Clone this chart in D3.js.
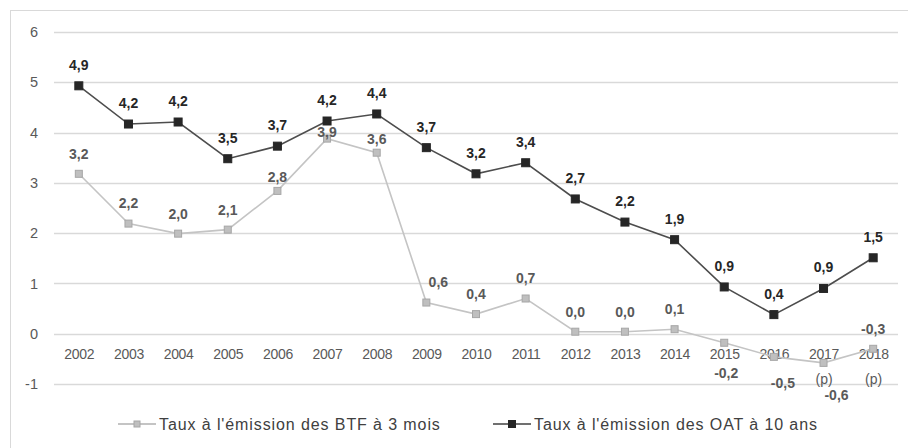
<!DOCTYPE html>
<html>
<head>
<meta charset="utf-8">
<script src="https://cdn.jsdelivr.net/npm/d3@7"></script>
<style>
  body { margin: 0; background: #fff; }
  svg { display: block; font-family: "Liberation Sans", Arial, sans-serif; }
</style>
</head>
<body>
<svg id="chart" width="908" height="448"></svg>
<script>
var years = ["2002", "2003", "2004", "2005", "2006", "2007", "2008", "2009", "2010",
  "2011", "2012", "2013", "2014", "2015", "2016", "2017", "2018"];
var yearNotes = { "2017": "(p)", "2018": "(p)" };
var btf = [3.18, 2.19, 1.99, 2.07, 2.84, 3.88, 3.60, 0.62, 0.39, 0.70, 0.04, 0.04, 0.09,
  -0.18, -0.46, -0.58, -0.30];
var oat = [4.93, 4.17, 4.21, 3.48, 3.73, 4.23, 4.37, 3.70, 3.18, 3.40, 2.68, 2.22, 1.87,
  0.93, 0.38, 0.90, 1.51];
var yTicks = [-1, 0, 1, 2, 3, 4, 5, 6];
var seriesNames = ["Taux à l'émission des BTF à 3 mois", "Taux à l'émission des OAT à 10 ans"];

// label nudges for the light series (dx, dy from the marker)
var btfNudge = {
  "2006": [0, -14], "2007": [0, -7], "2008": [0, -14], "2009": [12, -20],
  "2015": [2, 30], "2016": [9, 26], "2017": [13, 32]
};

var svg = d3.select("#chart");

// frame
svg.append("rect")
  .attr("x", 10.5).attr("y", 10.5)
  .attr("width", 920).attr("height", 460)
  .attr("fill", "none").attr("stroke", "#d9d9d9");

var x = d3.scalePoint().domain(years).range([54, 898]).padding(0.5);
var y = d3.scaleLinear().domain([-1, 6]).range([384, 32]);

var fmt = function(v) { return d3.format(".1f")(v).replace(".", ",").replace("−", "-"); };

// grid
svg.append("g").selectAll("line")
  .data(yTicks).enter().append("line")
  .attr("x1", 54).attr("x2", 898)
  .attr("y1", function(d) { return Math.round(y(d)) + 0.5; })
  .attr("y2", function(d) { return Math.round(y(d)) + 0.5; })
  .attr("stroke", "#d9d9d9").attr("stroke-width", 1.3);

// y axis labels
var yAxis = svg.append("g")
  .attr("transform", "translate(48,0)")
  .call(d3.axisLeft(y).tickValues(yTicks).tickSize(0).tickPadding(10)
    .tickFormat(function(d) { return String(d); }));
yAxis.select(".domain").remove();
yAxis.selectAll("text")
  .attr("fill", "#595959").attr("font-size", 14.5)
  .attr("font-family", "Liberation Sans, Arial, sans-serif");

// x axis labels, sitting just below the zero line
var xAxis = svg.append("g")
  .attr("transform", "translate(0," + (y(0) + 11) + ")")
  .call(d3.axisBottom(x).tickSize(0).tickPadding(4));
xAxis.select(".domain").remove();
xAxis.selectAll("text")
  .attr("fill", "#595959").attr("font-size", 14)
  .attr("letter-spacing", -0.3)
  .attr("font-family", "Liberation Sans, Arial, sans-serif");
xAxis.selectAll(".tick").filter(function(d) { return yearNotes[d]; })
  .append("text")
  .attr("y", 29).attr("dy", "0.71em")
  .attr("fill", "#595959").attr("font-size", 14)
  .attr("font-family", "Liberation Sans, Arial, sans-serif")
  .attr("text-anchor", "middle")
  .text(function(d) { return yearNotes[d]; });

var line = d3.line()
  .x(function(d, i) { return x(years[i]); })
  .y(function(d) { return y(d); });

function drawSeries(values, lineColor, markerFill, markerStroke, size) {
  var g = svg.append("g");
  g.append("path")
    .attr("d", line(values))
    .attr("fill", "none").attr("stroke", lineColor).attr("stroke-width", 1.6);
  g.selectAll("rect").data(values).enter().append("rect")
    .attr("x", function(d, i) { return x(years[i]) - size / 2; })
    .attr("y", function(d) { return y(d) - size / 2; })
    .attr("width", size).attr("height", size)
    .attr("fill", markerFill).attr("stroke", markerStroke).attr("stroke-width", 1);
  return g;
}

var gBtf = drawSeries(btf, "#c4c4c4", "#bfbfbf", "#a6a6a6", 7);
var gOat = drawSeries(oat, "#4d4d4d", "#262626", "#262626", 8);

gOat.selectAll("text.lbl").data(oat).enter().append("text")
  .attr("class", "lbl")
  .attr("x", function(d, i) { return x(years[i]); })
  .attr("y", function(d) { return y(d) - 21; })
  .attr("dy", "0.35em")
  .attr("text-anchor", "middle")
  .attr("font-size", 14).attr("font-weight", "bold").attr("fill", "#262626")
  .text(fmt);

gBtf.selectAll("text.lbl").data(btf).enter().append("text")
  .attr("class", "lbl")
  .attr("x", function(d, i) { var n = btfNudge[years[i]]; return x(years[i]) + (n ? n[0] : 0); })
  .attr("y", function(d, i) { var n = btfNudge[years[i]]; return y(d) + (n ? n[1] : -20); })
  .attr("dy", "0.35em")
  .attr("text-anchor", "middle")
  .attr("font-size", 14).attr("font-weight", "bold").attr("fill", "#595959")
  .text(fmt);

// legend
var legend = [
  { name: seriesNames[0], x: 118, line: "#b0b0b0", fill: "#bfbfbf", stroke: "#a6a6a6", size: 6 },
  { name: seriesNames[1], x: 493, line: "#404040", fill: "#262626", stroke: "#262626", size: 7 }
];
var lg = svg.append("g").selectAll("g").data(legend).enter().append("g")
  .attr("transform", function(d) { return "translate(" + d.x + ",424)"; });
lg.append("line").attr("x1", 0).attr("x2", 38)
  .attr("stroke", function(d) { return d.line; }).attr("stroke-width", 1.6);
lg.append("rect")
  .attr("x", function(d) { return 19 - d.size / 2; })
  .attr("y", function(d) { return -d.size / 2; })
  .attr("width", function(d) { return d.size; })
  .attr("height", function(d) { return d.size; })
  .attr("fill", function(d) { return d.fill; })
  .attr("stroke", function(d) { return d.stroke; });
lg.append("text")
  .attr("x", 41).attr("dy", "0.35em")
  .attr("font-size", 16).attr("letter-spacing", 0.9).attr("fill", "#404040")
  .text(function(d) { return d.name; });
</script>
</body>
</html>
